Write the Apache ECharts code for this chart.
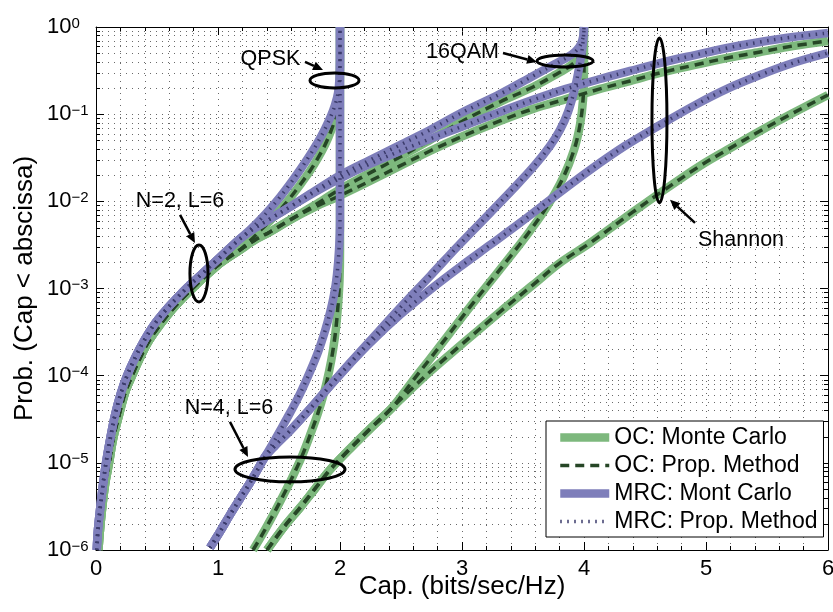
<!DOCTYPE html>
<html>
<head>
<meta charset="utf-8">
<script src="https://cdn.jsdelivr.net/npm/echarts@6/dist/echarts.min.js"></script>
<style>
  html, body { margin: 0; padding: 0; background: #fff; }
  #chart { width: 833px; height: 612px; }
</style>
</head>
<body>
<div id="chart"></div>
<script>
// Outage curves: [capacity (bits/sec/Hz), Prob(Cap < abscissa)]

// N=2, L=6 -- MRC
const mrcN2Low = [[0.006,1.0e-6],[0.016,1.71e-6],[0.033,2.89e-6],[0.057,5.60e-6],[0.082,1.0e-5],[0.115,1.84e-5],[0.156,3.55e-5],[0.205,6.35e-5],[0.254,9.95e-5],[0.320,1.60e-4],[0.393,2.51e-4],[0.475,3.83e-4],[0.566,5.53e-4],[0.664,7.80e-4],[0.770,1.10e-3],[0.877,1.51e-3],[0.984,2.07e-3],[1.098,2.92e-3],[1.180,3.71e-3]];
const mrcN2Qpsk = mrcN2Low.concat([[1.262,4.70e-3],[1.344,6.12e-3],[1.426,8.18e-3],[1.508,0.0112],[1.590,0.0158],[1.672,0.0229],[1.754,0.0340],[1.820,0.0480],[1.877,0.0677],[1.926,0.0954],[1.959,0.127],[1.984,0.175],[1.996,0.260],[2.0,0.477],[2.0,1]]);
const mrcN2Qam16 = mrcN2Low.concat([[1.303,4.95e-3],[1.426,6.28e-3],[1.590,8.63e-3],[1.795,0.0132],[1.992,0.0196],[2.246,0.0298],[2.492,0.0443],[2.738,0.0659],[2.992,0.103],[3.311,0.170],[3.582,0.274],[3.762,0.376],[3.869,0.453],[3.934,0.531],[3.975,0.638],[3.996,0.810],[4.0,1]]);
const mrcN2Shannon = mrcN2Low.concat([[1.303,4.95e-3],[1.426,6.28e-3],[1.590,8.63e-3],[1.795,0.0128],[1.992,0.0181],[2.246,0.0269],[2.492,0.0378],[2.738,0.0520],[2.992,0.0714],[3.311,0.106],[3.582,0.146],[3.852,0.195],[4.131,0.253],[4.377,0.313],[4.623,0.386],[4.910,0.477],[5.172,0.574],[5.443,0.673],[5.713,0.768],[6.0,0.853]]);

// N=2, L=6 -- OC
const ocN2Low = [[0.020,1.0e-6],[0.033,1.71e-6],[0.049,2.89e-6],[0.074,5.60e-6],[0.107,1.0e-5],[0.139,1.84e-5],[0.189,3.55e-5],[0.238,6.35e-5],[0.295,9.95e-5],[0.361,1.60e-4],[0.434,2.51e-4],[0.525,3.83e-4],[0.615,5.53e-4],[0.713,7.80e-4],[0.820,1.10e-3],[0.918,1.47e-3],[1.033,2.02e-3],[1.180,2.77e-3]];
const ocN2Qpsk = ocN2Low.concat([[1.262,3.52e-3],[1.344,4.58e-3],[1.426,5.96e-3],[1.508,7.97e-3],[1.590,0.0109],[1.672,0.0154],[1.754,0.0223],[1.820,0.0315],[1.877,0.0443],[1.926,0.0642],[1.959,0.0881],[1.984,0.124],[1.996,0.189],[2.0,0.418],[2.0,1]]);
const ocN2Qam16 = ocN2Low.concat([[1.303,3.61e-3],[1.426,4.46e-3],[1.590,6.12e-3],[1.795,9.10e-3],[1.992,0.0135],[2.246,0.0212],[2.492,0.0323],[2.738,0.0506],[2.992,0.0814],[3.311,0.138],[3.582,0.205],[3.762,0.281],[3.885,0.357],[3.959,0.453],[3.992,0.622],[4.0,0.81],[4.0,1]]);
const ocN2Shannon = ocN2Low.concat([[1.303,3.61e-3],[1.426,4.46e-3],[1.590,6.12e-3],[1.795,8.63e-3],[1.992,0.0115],[2.246,0.0171],[2.492,0.0255],[2.738,0.0378],[2.992,0.0548],[3.311,0.0836],[3.582,0.115],[3.852,0.149],[4.131,0.195],[4.377,0.240],[4.623,0.297],[4.910,0.367],[5.172,0.441],[5.443,0.517],[5.713,0.606],[6.0,0.691]]);

// N=4, L=6 -- MRC
const mrcN4Low = [[0.934,1.06e-6],[1.016,1.62e-6],[1.098,2.53e-6],[1.180,3.87e-6],[1.262,5.90e-6],[1.328,8.53e-6],[1.385,1.17e-5]];
const mrcN4Qpsk = mrcN4Low.concat([[1.443,1.61e-5],[1.508,2.33e-5],[1.590,3.74e-5],[1.672,6.18e-5],[1.754,1.11e-4],[1.820,1.87e-4],[1.877,3.26e-4],[1.918,5.25e-4],[1.951,8.45e-4],[1.975,1.43e-3],[1.992,2.77e-3],[2.0,6.12e-3],[2.0,1]]);
const mrcN4Mid = [[1.467,1.57e-5],[1.590,2.33e-5],[1.754,4.16e-5],[1.918,7.64e-5]];
const mrcN4Qam16 = mrcN4Low.concat(mrcN4Mid, [[2.082,1.40e-4],[2.246,2.51e-4],[2.492,6.0e-4],[2.738,1.39e-3],[2.984,3.25e-3],[3.230,7.36e-3],[3.434,0.0146],[3.598,0.0261],[3.721,0.0432],[3.803,0.0659],[3.869,0.106],[3.926,0.200],[3.967,0.386],[3.992,0.673],[4.0,1]]);
const mrcN4Shannon = mrcN4Low.concat(mrcN4Mid, [[2.082,1.37e-4],[2.246,2.38e-4],[2.492,4.98e-4],[2.738,9.64e-4],[2.984,1.77e-3],[3.230,3.16e-3],[3.475,5.65e-3],[3.762,0.0115],[4.049,0.0229],[4.336,0.0432],[4.623,0.0752],[4.910,0.127],[5.172,0.195],[5.443,0.281],[5.713,0.386],[6.0,0.503]]);

// N=4, L=6 -- OC
const ocN4Qpsk = [[1.287,1.0e-6],[1.361,1.49e-6],[1.443,2.40e-6],[1.525,3.97e-6],[1.607,6.73e-6],[1.689,1.20e-5],[1.762,2.21e-5],[1.820,3.74e-5],[1.869,6.35e-5],[1.910,1.11e-4],[1.943,1.98e-4],[1.967,3.53e-4],[1.984,6.49e-4],[1.996,1.26e-3],[2.0,2.77e-3],[2.0,1]];
const ocN4Low = [[1.402,1.0e-6],[1.549,1.90e-6],[1.672,3.05e-6],[1.795,5.04e-6],[1.918,8.32e-6],[2.082,1.45e-5],[2.246,2.45e-5],[2.410,4.05e-5]];
const ocN4Qam16 = ocN4Low.concat([[2.492,5.56e-5],[2.615,9.44e-5],[2.738,1.56e-4],[2.902,3.10e-4],[3.066,6.15e-4],[3.230,1.19e-3],[3.393,2.30e-3],[3.557,4.58e-3],[3.705,9.10e-3],[3.828,0.0186],[3.918,0.0388],[3.967,0.0752],[3.992,0.146],[4.0,0.321],[4.0,1]]);
const ocN4Shannon = ocN4Low.concat([[2.492,5.27e-5],[2.738,1.11e-4],[2.984,2.20e-4],[3.311,5.39e-4],[3.582,1.10e-3],[3.803,1.97e-3],[4.049,3.33e-3],[4.402,7.56e-3],[4.623,0.0125],[4.951,0.0255],[5.172,0.0388],[5.443,0.0642],[5.713,0.103],[6.0,0.166]]);

const ocCurves = [ocN2Qpsk, ocN2Qam16, ocN2Shannon, ocN4Qpsk, ocN4Qam16, ocN4Shannon];
const mrcCurves = [mrcN2Qpsk, mrcN2Qam16, mrcN2Shannon, mrcN4Qpsk, mrcN4Qam16, mrcN4Shannon];

// Legend entries
const legendNames = ['OC: Monte Carlo', 'OC: Prop. Method', 'MRC: Mont Carlo', 'MRC: Prop. Method'];

// Axis ticks
const xTicks = [0, 1, 2, 3, 4, 5, 6];
const decades = [-6, -5, -4, -3, -2, -1];
const minorSteps = [2, 3, 4, 5, 6, 7, 8, 9];

// Annotations, placed in data coordinates
const ellipseNotes = [
  { from: [0.770, 7.0e-4], to: [0.918, 3.16e-3] },
  { from: [1.754, 0.20], to: [2.156, 0.297] },
  { from: [3.615, 0.348], to: [4.074, 0.477] },
  { from: [4.557, 0.0096], to: [4.680, 0.748] },
  { from: [1.139, 6.05e-6], to: [2.041, 1.17e-5] }
];
const textNotes = [
  { text: 'N=2, L=6', at: [0.689, 0.0102] },
  { text: 'QPSK', at: [1.430, 0.424] },
  { text: '16QAM', at: [3.004, 0.517] },
  { text: 'Shannon', at: [5.287, 3.6e-3] },
  { text: 'N=4, L=6', at: [1.090, 4.3e-5] }
];
const arrowNotes = [
  { from: [0.689, 6.98e-3], to: [0.811, 3.33e-3] },
  { from: [1.713, 0.397], to: [1.861, 0.321] },
  { from: [3.336, 0.503], to: [3.615, 0.397] },
  { from: [4.910, 5.65e-3], to: [4.705, 0.0104] },
  { from: [1.098, 2.95e-5], to: [1.246, 1.17e-5] }
];

const FONT = '"Liberation Sans", Arial, Helvetica, sans-serif';
const styles = [
  { name: legendNames[0], color: '#7db87d', width: 8.5, type: 'solid', curves: ocCurves },
  { name: legendNames[1], color: '#264626', width: 3.5, type: [9, 6], curves: ocCurves },
  { name: legendNames[2], color: '#7e7eba', width: 8.5, type: 'solid', curves: mrcCurves },
  { name: legendNames[3], color: '#3c3c6c', width: 3.5, type: [1.5, 5.5], curves: mrcCurves }
];

const series = [];
styles.forEach(function (st, si) {
  st.curves.forEach(function (data) {
    series.push({
      type: 'line',
      name: st.name,
      data: data,
      symbol: 'none',
      showSymbol: false,
      smooth: 0.35,
      silent: true,
      z: 3 + si,
      lineStyle: { color: st.color, width: st.width, type: st.type, cap: 'butt', join: 'round' },
      itemStyle: { color: st.color },
      emphasis: { disabled: true }
    });
  });
});

// Minor log grid lines and ticks (2..9 within every decade)
const gridDot = '#6a6a6a';
const minorY = [];
decades.forEach(function (e) {
  minorSteps.forEach(function (k) { minorY.push([0, k * Math.pow(10, e)]); });
});
series.unshift({
  type: 'custom',
  name: 'minor-grid',
  silent: true,
  z: 1,
  data: minorY,
  encode: { x: 0, y: 1 },
  renderItem: function (params, api) {
    const cs = params.coordSys;
    const y = Math.round(api.coord([0, api.value(1)])[1]) + 0.5;
    const x0 = cs.x, x1 = cs.x + cs.width;
    return {
      type: 'group',
      children: [
        { type: 'line', shape: { x1: x0, y1: y, x2: x1, y2: y }, style: { stroke: gridDot, lineWidth: 1, lineDash: [1, 5] } },
        { type: 'line', shape: { x1: x0, y1: y, x2: x0 + 4, y2: y }, style: { stroke: '#000', lineWidth: 1 } },
        { type: 'line', shape: { x1: x1 - 4, y1: y, x2: x1, y2: y }, style: { stroke: '#000', lineWidth: 1 } }
      ]
    };
  }
});

const dotted = { color: gridDot, width: 1, type: [1, 5] };
const black = { color: '#000', width: 1 };

function expLabel(v) {
  const e = Math.round(Math.log10(v));
  return '{b|10}{s|' + (e < 0 ? '\u2212' + (-e) : e) + '}';
}

const chart = echarts.init(document.getElementById('chart'), null, { renderer: 'canvas' });

chart.setOption({
  animation: false,
  backgroundColor: '#fff',
  grid: { left: 96, right: 5, top: 27, bottom: 62, containLabel: false, outerBoundsMode: 'none' },
  legend: {
    data: [
      { name: legendNames[0], lineStyle: { width: 8.5, type: 'solid' } },
      { name: legendNames[1], lineStyle: { width: 3.5, type: [9, 6] } },
      { name: legendNames[2], lineStyle: { width: 8.5, type: 'solid' } },
      { name: legendNames[3], lineStyle: { width: 3.5, type: [1.5, 5.5] } }
    ],
    orient: 'vertical',
    left: 546,
    top: 421,
    padding: [5, 6, 4, 10],
    itemGap: 5,
    itemWidth: 49,
    itemHeight: 14,
    backgroundColor: '#fff',
    borderColor: '#000',
    borderWidth: 1,
    borderRadius: 0,
    selectedMode: false,
    itemStyle: { opacity: 0 },
    textStyle: { fontSize: 23, fontFamily: FONT, color: '#000' },
    z: 10
  },
  xAxis: [
    {
      type: 'value', min: xTicks[0], max: xTicks[xTicks.length - 1], interval: 1, position: 'bottom',
      axisLine: { onZero: false, lineStyle: black },
      axisTick: { inside: true, length: 8, lineStyle: black },
      minorTick: { show: true, splitNumber: 5, length: 4, lineStyle: black },
      splitLine: { show: true, lineStyle: dotted },
      minorSplitLine: { show: true, lineStyle: dotted },
      axisLabel: { fontSize: 22, fontFamily: FONT, color: '#000', margin: 8 },
      name: 'Cap. (bits/sec/Hz)', nameLocation: 'middle', nameGap: 24, nameMoveOverlap: false,
      nameTextStyle: { fontSize: 26, fontFamily: FONT, color: '#000' }
    },
    {
      type: 'value', min: xTicks[0], max: xTicks[xTicks.length - 1], interval: 1, position: 'top',
      axisLine: { onZero: false, lineStyle: black },
      axisTick: { inside: true, length: 8, lineStyle: black },
      minorTick: { show: true, splitNumber: 5, length: 4, lineStyle: black },
      splitLine: { show: false },
      axisLabel: { show: false }
    }
  ],
  yAxis: [
    {
      type: 'log', logBase: 10, min: 1e-6, max: 1, position: 'left',
      axisLine: { onZero: false, lineStyle: black },
      axisTick: { inside: true, length: 8, lineStyle: black },
      splitLine: { show: true, lineStyle: dotted },
      axisLabel: {
        formatter: expLabel, align: 'left', margin: 49,
        rich: {
          b: { fontSize: 22, lineHeight: 22, fontFamily: FONT, color: '#000' },
          s: { fontSize: 15, lineHeight: 14, verticalAlign: 'top', fontFamily: FONT, color: '#000' }
        }
      },
      name: 'Prob. (Cap < abscissa)', nameLocation: 'middle', nameRotate: 90, nameGap: 58, nameMoveOverlap: false,
      nameTextStyle: { fontSize: 26, fontFamily: FONT, color: '#000' }
    },
    {
      type: 'log', logBase: 10, min: 1e-6, max: 1, position: 'right',
      axisLine: { onZero: false, lineStyle: black },
      axisTick: { inside: true, length: 8, lineStyle: black },
      splitLine: { show: false },
      axisLabel: { show: false }
    }
  ],
  series: series
});

// Annotation layer: ellipses, arrows and labels positioned through the axes
function toPx(pt) { return chart.convertToPixel({ xAxisIndex: 0, yAxisIndex: 0 }, pt); }

const graphics = [];
ellipseNotes.forEach(function (n) {
  const a = toPx(n.from), b = toPx(n.to);
  graphics.push({
    type: 'ellipse', z: 20,
    shape: { cx: (a[0] + b[0]) / 2, cy: (a[1] + b[1]) / 2, rx: Math.abs(b[0] - a[0]) / 2, ry: Math.abs(b[1] - a[1]) / 2 },
    style: { fill: 'none', stroke: '#000', lineWidth: 3 }
  });
});
arrowNotes.forEach(function (n) {
  const a = toPx(n.from), b = toPx(n.to);
  const dx = b[0] - a[0], dy = b[1] - a[1], L = Math.hypot(dx, dy);
  const ux = dx / L, uy = dy / L, hl = 10, hw = 4.5;
  const bx = b[0] - ux * hl, by = b[1] - uy * hl;
  graphics.push({ type: 'line', z: 20, shape: { x1: a[0], y1: a[1], x2: bx, y2: by }, style: { stroke: '#000', lineWidth: 2.5 } });
  graphics.push({ type: 'polygon', z: 20, shape: { points: [[b[0], b[1]], [bx - uy * hw, by + ux * hw], [bx + uy * hw, by - ux * hw]] }, style: { fill: '#000' } });
});
textNotes.forEach(function (n) {
  const p = toPx(n.at);
  graphics.push({
    type: 'text', z: 20, x: p[0], y: p[1],
    style: { text: n.text, fontSize: 21.5, fontFamily: FONT, fill: '#000', align: 'center', verticalAlign: 'middle' }
  });
});
chart.setOption({ graphic: graphics });
</script>
</body>
</html>
